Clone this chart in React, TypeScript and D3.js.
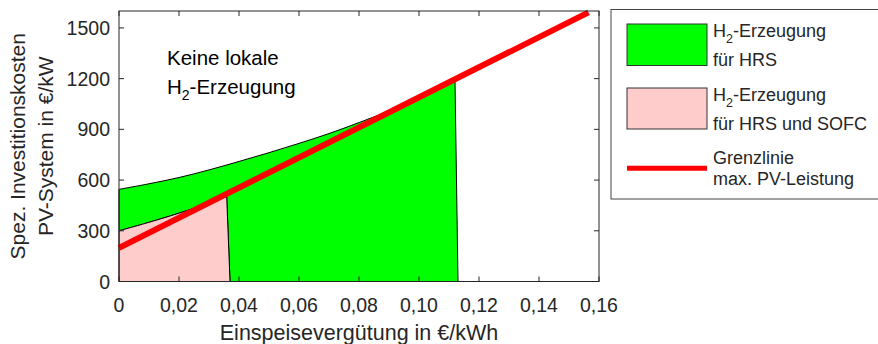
import React from "react";
import * as d3 from "d3";

// Axis ticks
const xTicks = [0, 0.02, 0.04, 0.06, 0.08, 0.1, 0.12, 0.14, 0.16];
const yTicks = [0, 300, 600, 900, 1200, 1500];

// Upper boundary of the H2 region (PV cost vs. feed-in tariff)
const upperX = [0, 0.01, 0.02, 0.03, 0.04, 0.05, 0.06, 0.07, 0.08, 0.09];
const upperY = [545, 578, 615, 660, 710, 762, 817, 875, 940, 1008];

// Boundary between "HRS only" and "HRS + SOFC"
const lowerX = [0, 0.01, 0.02, 0.03, 0.0359];
const lowerY = [300, 350, 404, 463, 502];

// Right-hand cut-offs of both regions (top point, bottom point)
const sofcEdgeX = [0.0359, 0.037];
const sofcEdgeY = [502, 0];
const hrsEdgeX = [0.112, 0.113];
const hrsEdgeY = [1190, 0];

// Limit line for maximum PV power
const limitX = [0, 0.1565];
const limitY = [199, 1592];

const FONT = "'Liberation Sans', Arial, Helvetica, sans-serif";
const AXIS = "#262626";

type Pt = [number, number];

export default function App() {
  const W = 878;
  const H = 344;
  const left = 119;
  const right = 599;
  const top = 11;
  const bottom = 281.5;

  const x = d3.scaleLinear().domain([0, 0.16]).range([left, right]);
  const y = d3.scaleLinear().domain([0, 1600]).range([bottom, top]);

  const pts = (xs: number[], ys: number[]): Pt[] => xs.map((v, i) => [x(v), y(ys[i])] as Pt);

  const upper = pts(upperX, upperY);
  const lower = pts(lowerX, lowerY);
  const sofcEdge = pts(sofcEdgeX, sofcEdgeY);
  const hrsEdge = pts(hrsEdgeX, hrsEdgeY);

  const smooth = d3.line<Pt>().curve(d3.curveCatmullRom.alpha(0.5));
  const straight = d3.line<Pt>();
  const lineTo = (p: Pt[]) => p.map((q) => "L" + q.join(",")).join("");
  // continue a path along a smooth curve (drop the leading "M" of the sub-path)
  const curveTo = (p: Pt[]) => "L" + (smooth(p) || "").slice(1);

  // Green region: lower curve -> SOFC cut-off -> bottom -> HRS cut-off -> upper curve back
  const greenPath =
    (smooth(lower) || "") +
    lineTo(sofcEdge.slice(1)) +
    lineTo(hrsEdge.slice().reverse()) +
    curveTo(upper.slice().reverse()) +
    "Z";
  // Pink region: origin -> lower curve -> SOFC cut-off
  const pinkPath = `M${x(0)},${y(0)}` + curveTo(lower) + lineTo(sofcEdge.slice(1)) + "Z";

  const tickLen = 5;
  const fmtX = (v: number) => (v === 0 ? "0" : v.toFixed(2).replace(".", ","));

  // Legend layout
  const lx = 611;
  const ly = 9.5;
  const legendFont = 18;

  return (
    <svg width={W} height={H} style={{ position: "absolute", left: 0, top: 0, background: "#fff" }} fontFamily={FONT}>
      <rect x={0} y={0} width={W} height={H} fill="#fff" />

      {/* regions */}
      <path d={greenPath} fill="#00ff00" stroke="#000" strokeWidth={1} strokeLinejoin="round" />
      <path d={pinkPath} fill="#ffcccc" stroke="#000" strokeWidth={1} strokeLinejoin="round" />

      {/* limit line */}
      <path d={straight(pts(limitX, limitY)) || ""} stroke="#ff0000" strokeWidth={6} fill="none" />

      {/* axes box */}
      <rect x={left} y={top} width={right - left} height={bottom - top} fill="none" stroke={AXIS} strokeWidth={1} />

      {/* x ticks */}
      {xTicks.map((t) => (
        <g key={"x" + t}>
          <line x1={x(t)} x2={x(t)} y1={bottom} y2={bottom - tickLen} stroke={AXIS} />
          <line x1={x(t)} x2={x(t)} y1={top} y2={top + tickLen} stroke={AXIS} />
          <text x={x(t)} y={311.5} textAnchor="middle" fontSize={19.5} fill={AXIS}>
            {fmtX(t)}
          </text>
        </g>
      ))}

      {/* y ticks */}
      {yTicks.map((t) => (
        <g key={"y" + t}>
          <line x1={left} x2={left + tickLen} y1={y(t)} y2={y(t)} stroke={AXIS} />
          <line x1={right} x2={right - tickLen} y1={y(t)} y2={y(t)} stroke={AXIS} />
          <text x={110} y={y(t) + 7} textAnchor="end" fontSize={19.5} fill={AXIS}>
            {t}
          </text>
        </g>
      ))}

      {/* axis titles */}
      <text x={(left + right) / 2} y={339.5} textAnchor="middle" fontSize={21.5} fill={AXIS}>
        Einspeisevergütung in €/kWh
      </text>
      <g transform={`translate(25,${(top + bottom) / 2}) rotate(-90)`}>
        <text x={0} y={0} textAnchor="middle" fontSize={21} fill={AXIS}>
          Spez. Investitionskosten
        </text>
        <text x={0} y={28} textAnchor="middle" fontSize={21} fill={AXIS}>
          PV-System in €/kW
        </text>
      </g>

      {/* annotation */}
      <text x={167} y={65} fontSize={20.5} fill="#000">
        Keine lokale
      </text>
      <text x={167} y={94} fontSize={20.5} fill="#000">
        H<tspan fontSize={14} dy={6}>2</tspan>
        <tspan dy={-6}>-Erzeugung</tspan>
      </text>

      {/* legend */}
      <rect x={lx} y={ly} width={W - lx + 5} height={199 - ly} fill="#fff" stroke="#444" strokeWidth={1} />
      <rect x={627} y={24} width={80} height={41.5} fill="#00ff00" stroke="#333" strokeWidth={1} />
      <rect x={627} y={88} width={80} height={41} fill="#ffcccc" stroke="#333" strokeWidth={1} />
      <line x1={627} x2={707} y1={168.3} y2={168.3} stroke="#ff0000" strokeWidth={5} />

      <text x={713} y={37} fontSize={legendFont} fill={AXIS}>
        H<tspan fontSize={12.5} dy={6}>2</tspan>
        <tspan dy={-6}>-Erzeugung</tspan>
      </text>
      <text x={713} y={66} fontSize={legendFont} fill={AXIS}>
        für HRS
      </text>
      <text x={713} y={101} fontSize={legendFont} fill={AXIS}>
        H<tspan fontSize={12.5} dy={6}>2</tspan>
        <tspan dy={-6}>-Erzeugung</tspan>
      </text>
      <text x={713} y={130} fontSize={legendFont} fill={AXIS}>
        für HRS und SOFC
      </text>
      <text x={713} y={163.5} fontSize={legendFont} fill={AXIS}>
        Grenzlinie
      </text>
      <text x={713} y={185} fontSize={legendFont} fill={AXIS}>
        max. PV-Leistung
      </text>
    </svg>
  );
}
